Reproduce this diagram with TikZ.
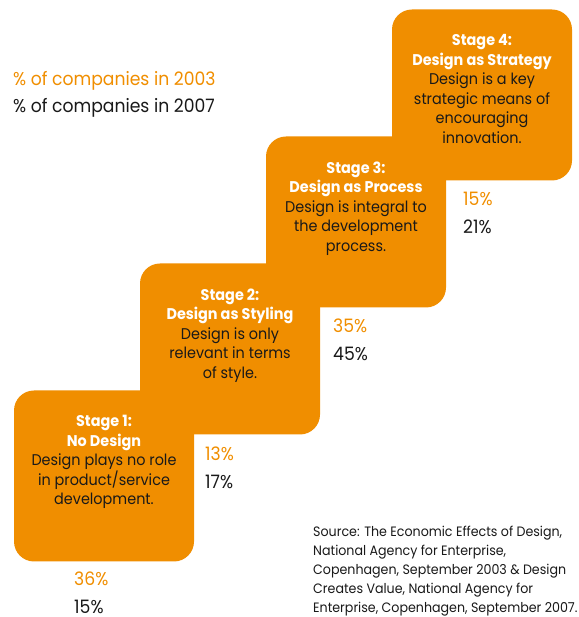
\documentclass[tikz,border=0pt]{standalone}
\usepackage{fontspec}
\setmainfont[FakeStretch=0.93]{Poppins}
\usepackage{tikz}
\usetikzlibrary{positioning}
\definecolor{jinggads}{RGB}{240,142,0}
\definecolor{hitamds}{RGB}{25,25,25}
\newcommand{\judultahap}[1]{\textcolor{white}{\bfseries #1}}

\begin{document}
\begin{tikzpicture}[x=1pt, y=1pt,
    kotak/.style={fill=jinggads, rounded corners=20pt, minimum width=180pt, minimum height=171pt, inner sep=0pt},
    isikotak/.style={align=center, text=hitamds, inner sep=0pt, font=\fontsize{15.5}{19.5}\selectfont},
    persen/.style={anchor=north west, align=left, inner sep=0pt, font=\fontsize{18.5}{27.5}\selectfont},
    sumber/.style={anchor=north west, align=left, inner sep=0pt, text=hitamds, font=\fontsize{13.6}{19}\selectfont}]
    \useasboundingbox (0,0) rectangle (578,617);
    % tangga empat tahap
    \node[kotak] (tahap1) at (104,141) {};
    \node[kotak] (tahap2) at (230,268) {};
    \node[kotak] (tahap3) at (356,395) {};
    \node[kotak] (tahap4) at (482,522) {};
    \node[isikotak, below=25pt of tahap1.north] (teks1) {\judultahap{Stage 1:}\\\judultahap{No Design}\\Design plays no role\\in product/service\\development.};
    \node[isikotak, below=25pt of tahap2.north] (teks2) {\judultahap{Stage 2:}\\\judultahap{Design as Styling}\\Design is only\\relevant in terms\\of style.};
    \node[isikotak, below=25pt of tahap3.north] (teks3) {\judultahap{Stage 3:}\\\judultahap{Design as Process}\\Design is integral to\\the development\\process.};
    \node[isikotak, below=25pt of tahap4.north] (teks4) {\judultahap{Stage 4:}\\\judultahap{Design as Strategy}\\Design is a key\\strategic means of\\encouraging\\innovation.};
    % persentase 2003 / 2007
    \node[persen] (persen1) at (74,45) {\textcolor{jinggads}{36\%}\\\textcolor{hitamds}{15\%}};
    \node[persen] (persen2) at (205,170) {\textcolor{jinggads}{13\%}\\\textcolor{hitamds}{17\%}};
    \node[persen] (persen3) at (333,298) {\textcolor{jinggads}{35\%}\\\textcolor{hitamds}{45\%}};
    \node[persen] (persen4) at (463,425) {\textcolor{jinggads}{15\%}\\\textcolor{hitamds}{21\%}};
    % keterangan dan sumber
    \node[persen] (legenda) at (13,546) {\textcolor{jinggads}{\% of companies in 2003}\\\textcolor{hitamds}{\% of companies in 2007}};
    \node[sumber] (sumber) at (313,91) {Source: The Economic Effects of Design,\\National Agency for Enterprise,\\Copenhagen, September 2003 \& Design\\Creates Value, National Agency for\\Enterprise, Copenhagen, September 2007.};
\end{tikzpicture}
\end{document}
